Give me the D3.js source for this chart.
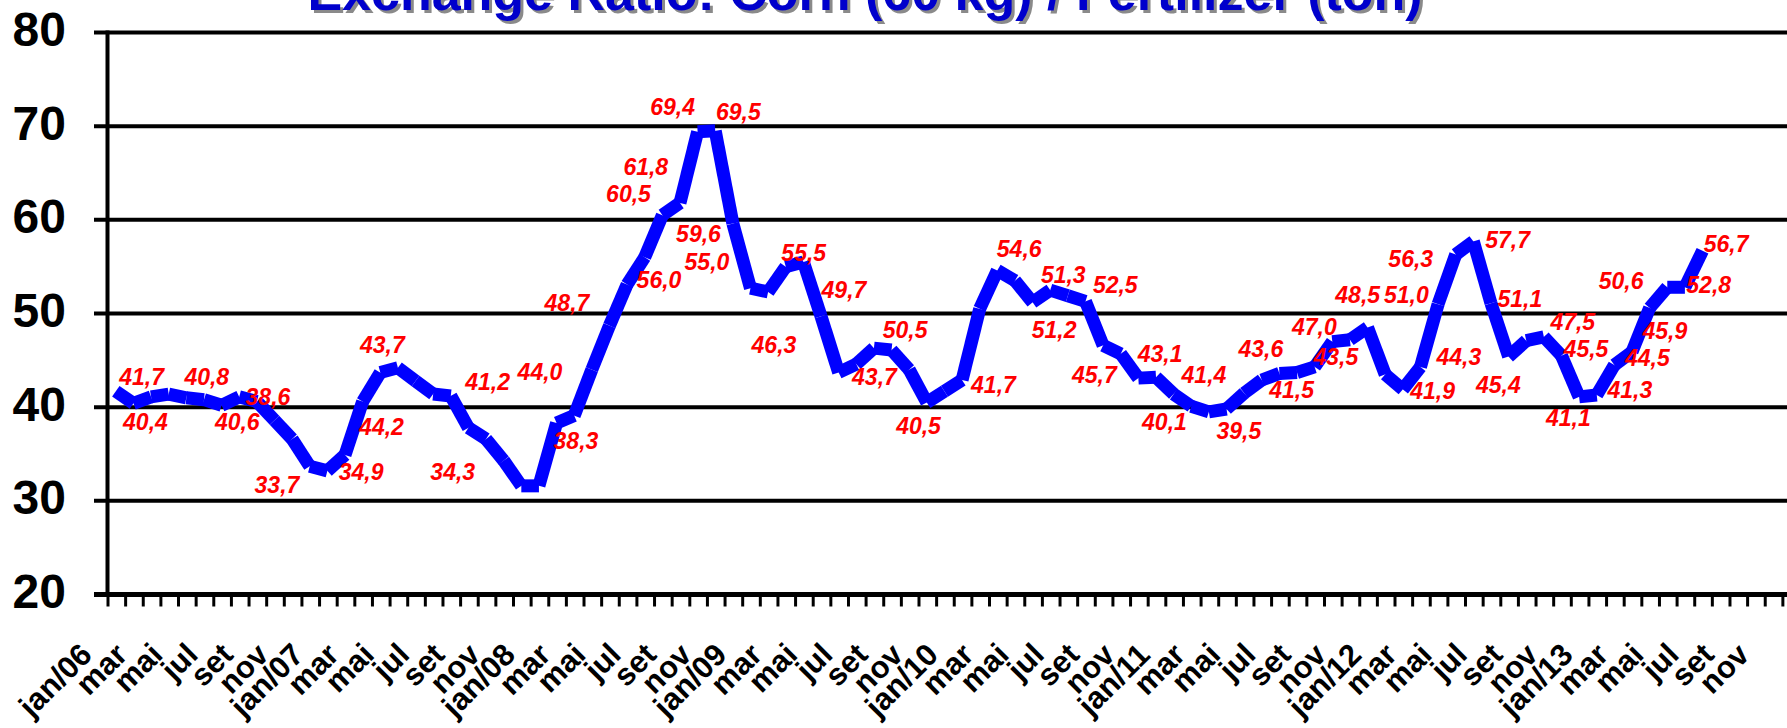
<!DOCTYPE html>
<html><head><meta charset="utf-8">
<script src="https://cdn.jsdelivr.net/npm/d3@7"></script>
<style>
body{margin:0;background:#fff;}
svg{display:block;font-family:"Liberation Sans",Arial,sans-serif;}
</style>
</head><body>
<svg id="c" width="1787" height="728"></svg>
<script>
const title = "Exchange Ratio: Corn (60 kg) / Fertilizer (ton)";
const monthNames = ["jan","fev","mar","abr","mai","jun","jul","ago","set","out","nov","dez"];
const years = ["06","07","08","09","10","11","12","13"];
const categories = years.flatMap(yy => monthNames.map((m,k) => k === 0 ? m + "/" + yy : m));
const yTicks = [20,30,40,50,60,70,80];

// monthly exchange ratio, jan/06 .. jul/13
const ratio = [
 41.7,40.4,41.1,41.4,41.0,40.8,40.2,41.1,40.6,38.6,
 36.6,33.7,33.2,34.9,40.6,43.7,44.2,42.8,41.4,41.2,
 37.8,36.6,34.3,31.6,31.6,38.3,39.1,44.0,48.7,53.1,
 56.0,60.5,61.8,69.4,69.5,59.6,52.7,52.3,55.0,55.5,
 49.7,43.7,44.6,46.3,46.1,44.0,40.5,41.7,42.9,50.5,
 54.6,53.5,51.2,52.5,51.9,51.3,46.6,45.7,43.1,43.2,
 41.4,40.1,39.5,39.8,41.5,42.9,43.6,43.7,44.3,47.0,
 47.2,48.5,43.5,41.9,44.3,51.0,56.3,57.7,51.1,45.4,
 47.1,47.5,45.5,41.1,41.3,44.5,45.9,50.6,52.8,52.8,
 56.7
];

// data labels: which point, and where the label sits (in month / value units)
const labelPoint = [0,1,5,8,9,11,13,16,15,19,22,27,25,28,33,34,32,31,35,38,30,39,43,40,41,49,46,47,50,55,52,53,57,58,61,60,62,66,64,69,72,71,75,76,73,74,77,78,79,81,82,83,84,87,85,86,89,90];
const labelMonth = [1.46,1.68,5.16,6.89,8.63,9.14,13.91,15.07,15.12,21.09,19.11,24.06,26.10,25.59,31.58,35.31,30.06,29.08,33.05,33.53,30.81,39.02,37.33,41.30,43.03,44.77,45.53,49.78,51.24,53.74,53.22,56.69,55.50,59.23,59.48,61.72,63.70,64.95,66.69,67.98,69.20,70.44,73.20,73.45,74.69,76.18,78.94,79.64,78.42,82.64,83.39,82.39,85.88,85.38,86.87,87.86,90.35,91.34];
const labelLevel = [43.22,38.42,43.22,38.42,41.16,31.69,33.08,37.88,46.63,42.68,33.08,43.76,36.39,51.12,72.08,71.54,65.67,62.83,58.49,55.53,53.58,56.49,46.64,52.51,43.25,48.24,37.99,42.37,56.96,54.11,48.24,53.04,43.44,45.75,38.45,43.44,37.49,46.28,41.83,48.59,45.39,51.97,51.97,55.89,41.76,45.39,57.85,51.62,42.37,49.12,46.28,38.92,41.83,53.51,45.32,48.16,53.12,57.49];

const W = 1787, H = 728;
const FONT = '"Liberation Sans",Arial,sans-serif';
const svg = d3.select("#c");
const idx = d3.range(categories.length);
const x = d3.scaleLinear().domain([-0.5, 95.5]).range([107, 1799.5]);
const xb = d3.scaleBand().domain(idx).range([107, 1799.5]).padding(0);
const y = d3.scaleLinear().domain([20, 80]).range([594.5, 32.5]);
const fmt = v => d3.format(".1f")(v).replace(".", ",");

// y axis labels
const ya = svg.append("g").attr("transform", "translate(107.5,0)")
  .call(d3.axisLeft(y).tickValues(yTicks).tickSize(0).tickPadding(0).tickFormat(d3.format("d")));
ya.select(".domain").remove();
ya.selectAll(".tick line").remove();
ya.selectAll(".tick text")
  .attr("x", 66 - 107.5).attr("dy", 13)
  .attr("font-size", 48).attr("font-weight", "bold").attr("fill", "#000")
  .attr("font-family", FONT).attr("text-anchor", "end");

// gridlines
svg.append("g").selectAll("line").data(yTicks.filter(v => v > 20)).join("line")
  .attr("x1", 94).attr("x2", W).attr("y1", d => y(d)).attr("y2", d => y(d))
  .attr("stroke", "#000").attr("stroke-width", 4);

// x axis line
svg.append("line").attr("x1", 94).attr("x2", W).attr("y1", y(20)).attr("y2", y(20))
  .attr("stroke", "#000").attr("stroke-width", 5);
// y axis line
svg.append("line").attr("x1", 107.5).attr("x2", 107.5).attr("y1", y(80) - 2).attr("y2", y(20))
  .attr("stroke", "#000").attr("stroke-width", 4);

// x ticks between categories
const tickPos = idx.map(i => xb(i)).concat([xb.range()[1]]);
svg.append("g").selectAll("line").data(tickPos).join("line")
  .attr("x1", d => d + 1).attr("x2", d => d + 1)
  .attr("y1", y(20) + 2).attr("y2", y(20) + 12)
  .attr("stroke", "#000").attr("stroke-width", 3);

// x labels (every second month)
const xa = svg.append("g").attr("transform", `translate(0,${y(20)})`)
  .call(d3.axisBottom(xb).tickValues(idx.filter(i => i % 2 === 0)).tickSize(0).tickFormat(i => categories[i]));
xa.select(".domain").remove();
xa.selectAll(".tick text")
  .attr("y", 0).attr("dy", 0)
  .attr("transform", "translate(-22,62) rotate(-45)")
  .attr("text-anchor", "end")
  .attr("font-size", 31).attr("font-weight", "bold").attr("fill", "#000")
  .attr("font-family", FONT);

// line as separate butt-capped segments
const segs = d3.pairs(ratio.map((v, i) => [x(i), y(v)]));
svg.append("g").selectAll("line").data(segs).join("line")
  .attr("x1", d => d[0][0]).attr("y1", d => d[0][1])
  .attr("x2", d => d[1][0]).attr("y2", d => d[1][1])
  .attr("stroke", "#0000FF").attr("stroke-width", 13).attr("stroke-linecap", "butt");

// data labels
svg.append("g").selectAll("text").data(labelPoint).join("text")
  .attr("x", (d, k) => x(labelMonth[k]))
  .attr("y", (d, k) => y(labelLevel[k]))
  .attr("dy", "0.36em")
  .attr("text-anchor", "middle")
  .attr("font-size", 23).attr("font-weight", "bold").attr("font-style", "italic")
  .attr("fill", "#FF0000")
  .text(d => fmt(ratio[d]));

// title with shadow
svg.append("text").attr("x", 868).attr("y", 13).attr("text-anchor", "middle")
  .attr("font-size", 52).attr("font-weight", "bold").attr("fill", "#8a8a8a")
  .text(title);
svg.append("text").attr("x", 865).attr("y", 10).attr("text-anchor", "middle")
  .attr("font-size", 52).attr("font-weight", "bold").attr("fill", "#0000CC")
  .text(title);
</script>
</body></html>
